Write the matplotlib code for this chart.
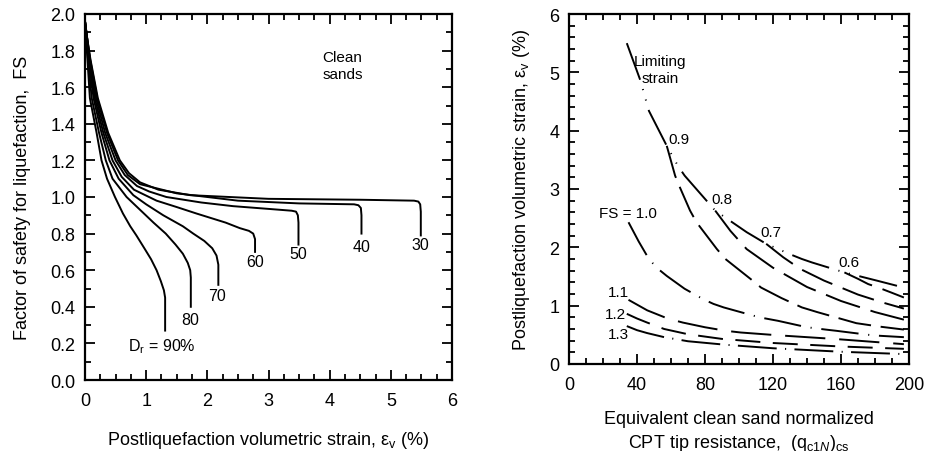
import numpy as np
import matplotlib.pyplot as plt
from matplotlib.ticker import MultipleLocator

plt.rcParams['font.family'] = ['Liberation Sans', 'DejaVu Sans']
plt.rcParams['mathtext.fontset'] = 'custom'
plt.rcParams['mathtext.rm'] = 'Liberation Sans'
plt.rcParams['mathtext.it'] = 'Liberation Sans:italic'
plt.rcParams['lines.scale_dashes'] = False

# ---------- left panel: FS vs volumetric strain, one curve per Dr ----------
dr_labels = ['30', '40', '50', '60', '70', '80', 'D$_\\mathregular{r}$ = 90%']
strain_30 = [0, 0.03, 0.09, 0.21, 0.38, 0.57, 0.72, 0.9, 1.2, 1.72, 3.0, 4.5, 5.38, 5.45, 5.48, 5.49, 5.49]
fs_30 = [1.96, 1.88, 1.75, 1.54, 1.35, 1.2, 1.13, 1.08, 1.04, 1.01, 0.99, 0.985, 0.98, 0.975, 0.96, 0.92, 0.79]
strain_40 = [0, 0.03, 0.085, 0.2, 0.36, 0.54, 0.7, 0.9, 1.5, 2.5, 3.5, 4.4, 4.47, 4.51, 4.52, 4.52]
fs_40 = [1.96, 1.88, 1.75, 1.54, 1.35, 1.2, 1.12, 1.07, 1.02, 0.98, 0.965, 0.96, 0.955, 0.94, 0.9, 0.80]
strain_50 = [0, 0.03, 0.08, 0.18, 0.33, 0.5, 0.65, 0.85, 1.05, 1.33, 1.9, 2.42, 3.0, 3.38, 3.45, 3.48, 3.49, 3.49]
fs_50 = [1.96, 1.88, 1.75, 1.54, 1.35, 1.2, 1.12, 1.06, 1.03, 1.0, 0.97, 0.95, 0.935, 0.925, 0.92, 0.9, 0.86, 0.74]
strain_60 = [0, 0.03, 0.07, 0.16, 0.3, 0.45, 0.6, 0.8, 1.17, 1.5, 1.82, 2.3, 2.53, 2.68, 2.75, 2.78, 2.78]
fs_60 = [1.96, 1.88, 1.75, 1.54, 1.35, 1.2, 1.11, 1.04, 0.98, 0.945, 0.91, 0.86, 0.83, 0.815, 0.8, 0.77, 0.70]
strain_70 = [0, 0.025, 0.06, 0.14, 0.27, 0.4, 0.55, 0.79, 1.0, 1.28, 1.6, 1.77, 1.95, 2.08, 2.15, 2.18, 2.18]
fs_70 = [1.96, 1.88, 1.75, 1.54, 1.35, 1.2, 1.1, 1.01, 0.96, 0.9, 0.84, 0.8, 0.76, 0.72, 0.68, 0.63, 0.52]
strain_80 = [0, 0.02, 0.05, 0.11, 0.23, 0.34, 0.45, 0.68, 0.9, 1.12, 1.32, 1.48, 1.6, 1.68, 1.72, 1.73, 1.73]
fs_80 = [1.96, 1.88, 1.75, 1.54, 1.35, 1.2, 1.1, 1.0, 0.93, 0.86, 0.8, 0.74, 0.69, 0.64, 0.6, 0.56, 0.40]
strain_90 = [0, 0.015, 0.04, 0.08, 0.19, 0.27, 0.36, 0.49, 0.62, 0.74, 0.84, 0.97, 1.08, 1.17, 1.24, 1.29, 1.31, 1.31]
fs_90 = [1.96, 1.88, 1.75, 1.54, 1.35, 1.2, 1.1, 1.0, 0.91, 0.84, 0.79, 0.72, 0.66, 0.6, 0.54, 0.49, 0.45, 0.27]
label_x = [5.49, 4.52, 3.48, 2.78, 2.16, 1.72, 0.70]
label_y = [0.74, 0.73, 0.69, 0.65, 0.46, 0.33, 0.19]

# ---------- right panel: volumetric strain vs (qc1N)cs, one curve per FS ----------
q_lim = [34, 42, 47, 57.5, 64, 68, 86, 93, 99, 104.5, 116, 131, 137, 143, 162, 181, 197]
ev_lim = [5.5, 4.86, 4.34, 3.74, 3.40, 3.23, 2.63, 2.49, 2.37, 2.26, 2.06, 1.87, 1.80, 1.74, 1.57, 1.43, 1.31]
q_09 = [57.5, 62.4, 64.3, 71.2, 75, 87, 92, 108, 113, 125, 137, 146, 169, 183, 197]
ev_09 = [3.74, 3.23, 3.09, 2.63, 2.43, 1.97, 1.80, 1.43, 1.31, 1.13, 0.97, 0.89, 0.70, 0.64, 0.59]
q_08 = [86, 95, 104.5, 120, 140, 160, 180, 197]
ev_08 = [2.63, 2.28, 1.97, 1.65, 1.32, 1.08, 0.89, 0.76]
q_07 = [116, 126, 136, 150, 170, 185, 197]
ev_07 = [2.06, 1.83, 1.63, 1.43, 1.19, 1.05, 0.95]
q_06 = [162, 170, 176, 182, 190, 197]
ev_06 = [1.57, 1.46, 1.37, 1.31, 1.22, 1.14]
q_10 = [35, 41, 47, 52, 57.5, 68, 79, 85, 91, 112, 123, 140, 151, 157, 179, 197]
ev_10 = [2.43, 2.1, 1.80, 1.64, 1.51, 1.29, 1.11, 1.03, 0.97, 0.80, 0.74, 0.63, 0.59, 0.57, 0.49, 0.46]
q_11 = [35, 46, 58, 67, 80, 92, 101, 124, 156, 197]
ev_11 = [1.10, 0.92, 0.78, 0.71, 0.63, 0.57, 0.54, 0.49, 0.43, 0.34]
q_12 = [34, 40, 46, 56, 70, 90, 120, 160, 197]
ev_12 = [0.86, 0.78, 0.71, 0.60, 0.51, 0.43, 0.36, 0.30, 0.26]
q_13 = [34, 40, 46, 56, 70, 92, 120, 160, 197]
ev_13 = [0.65, 0.58, 0.53, 0.46, 0.39, 0.33, 0.27, 0.21, 0.17]

fig = plt.figure(figsize=(9.35, 4.52), dpi=100)
ax1 = fig.add_axes([85 / 935, 1 - 381 / 452, 367 / 935, 366 / 452])
ax2 = fig.add_axes([569 / 935, 1 - 365 / 452, 340 / 935, 350 / 452])

lw = 1.4
for xs, ys in [(strain_30, fs_30), (strain_40, fs_40), (strain_50, fs_50), (strain_60, fs_60),
               (strain_70, fs_70), (strain_80, fs_80), (strain_90, fs_90)]:
    ax1.plot(xs, ys, color='black', lw=lw, solid_joinstyle='round')
for i in range(len(dr_labels)):
    ha = 'left' if i == len(dr_labels) - 1 else 'center'
    ax1.text(label_x[i], label_y[i], dr_labels[i], fontsize=11.5, ha=ha, va='center')
ax1.text(4.21, 1.72, 'Clean\nsands', fontsize=11, ha='center', va='center', linespacing=1.3)

ax1.set_xlim(0, 6)
ax1.set_ylim(0, 2.0)
ax1.xaxis.set_major_locator(MultipleLocator(1))
ax1.xaxis.set_minor_locator(MultipleLocator(0.25))
ax1.yaxis.set_major_locator(MultipleLocator(0.2))
ax1.yaxis.set_minor_locator(MultipleLocator(0.1))
ax1.yaxis.set_major_formatter(plt.FormatStrFormatter('%.1f'))
ax1.set_xlabel('Postliquefaction volumetric strain, ε$_\\mathregular{v}$ (%)', fontsize=13, labelpad=14)
ax1.set_ylabel('Factor of safety for liquefaction,  FS', fontsize=13, labelpad=14)

styles = [
    (q_lim, ev_lim, (0, (28, 7, 0.8, 7, 0.8, 7))),
    (q_09, ev_09, (0, (24, 7))),
    (q_08, ev_08, (0, (26, 8))),
    (q_07, ev_07, (0, (24, 8))),
    (q_06, ev_06, (0, (22, 8))),
    (q_10, ev_10, (0, (27, 7, 0.8, 7))),
    (q_11, ev_11, (0, (29, 10))),
    (q_12, ev_12, (0, (18, 9))),
    (q_13, ev_13, (0, (28, 6, 0.8, 6))),
]
for xs, ys, ls in styles:
    ax2.plot(xs, ys, color='black', lw=lw, linestyle=ls, dash_capstyle='butt')

fs_txt = 11
ax2.text(53.5, 5.05, 'Limiting\nstrain', fontsize=fs_txt, ha='center', va='center', linespacing=1.3)
ax2.text(58.5, 3.86, '0.9', fontsize=fs_txt, ha='left', va='center')
ax2.text(83.5, 2.83, '0.8', fontsize=fs_txt, ha='left', va='center')
ax2.text(112.7, 2.26, '0.7', fontsize=fs_txt, ha='left', va='center')
ax2.text(158.4, 1.75, '0.6', fontsize=fs_txt, ha='left', va='center')
ax2.text(17.8, 2.58, 'FS = 1.0', fontsize=fs_txt, ha='left', va='center')
ax2.text(23.1, 1.23, '1.1', fontsize=fs_txt, ha='left', va='center')
ax2.text(21.2, 0.86, '1.2', fontsize=fs_txt, ha='left', va='center')
ax2.text(23.1, 0.51, '1.3', fontsize=fs_txt, ha='left', va='center')

ax2.set_xlim(0, 200)
ax2.set_ylim(0, 6)
ax2.xaxis.set_major_locator(MultipleLocator(40))
ax2.xaxis.set_minor_locator(MultipleLocator(10))
ax2.yaxis.set_major_locator(MultipleLocator(1))
ax2.yaxis.set_minor_locator(MultipleLocator(0.2))
ax2.set_xlabel('Equivalent clean sand normalized\nCPT tip resistance,  '
               '$(\\mathregular{q}_{\\mathregular{c1}\\mathit{N}})_{\\mathregular{cs}}$',
               fontsize=13, labelpad=12, linespacing=1.3)
ax2.set_ylabel('Postliquefaction volumetric strain, ε$_\\mathregular{v}$ (%)', fontsize=13, labelpad=12)

for ax in (ax1, ax2):
    for sp in ax.spines.values():
        sp.set_linewidth(1.6)
    ax.tick_params(which='both', direction='in', top=True, right=True, labelsize=13, width=1.3)
    ax.tick_params(which='major', length=7, pad=7)
    ax.tick_params(which='minor', length=4)
    ax.tick_params(axis='x', which='major', pad=9)

fig.savefig('out.png', dpi=100)
